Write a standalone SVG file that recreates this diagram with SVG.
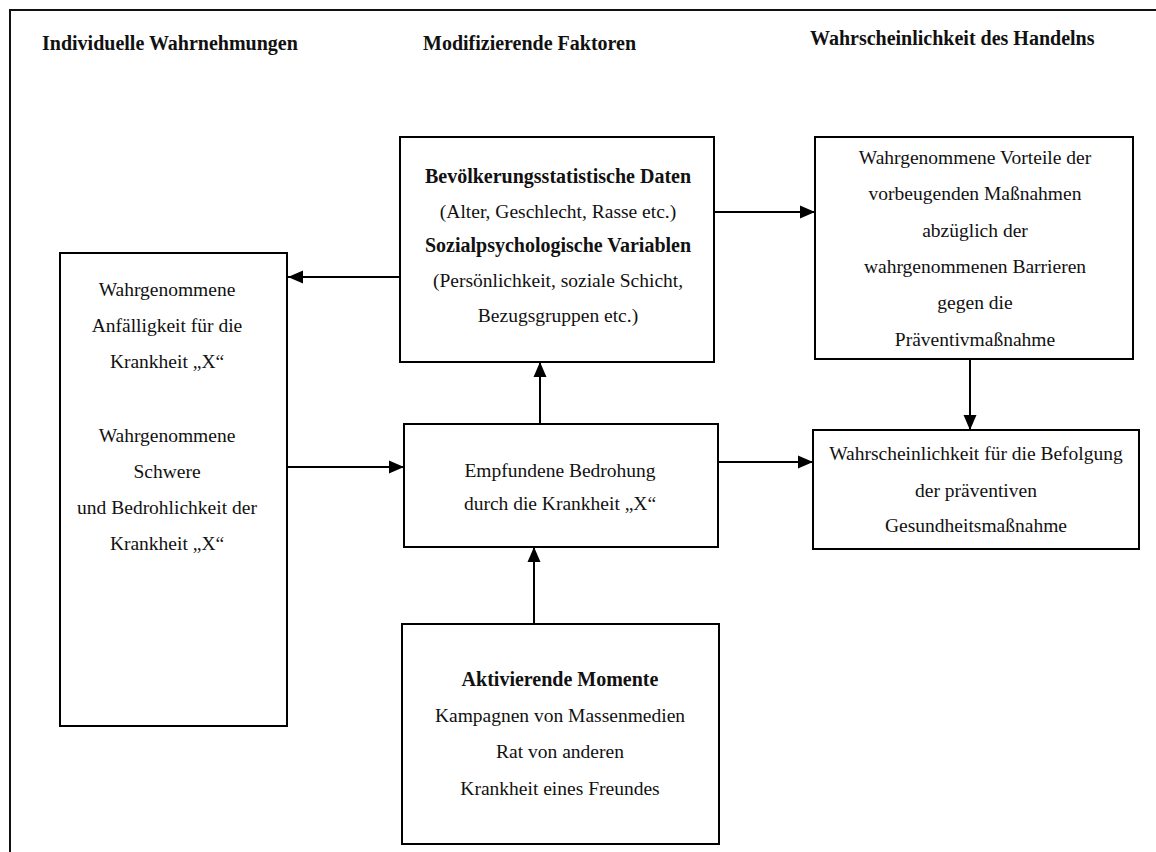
<svg xmlns="http://www.w3.org/2000/svg" width="1156" height="852" viewBox="0 0 1156 852">
  <defs>
    <style>
      .box { fill: #ffffff; stroke: #000000; stroke-width: 2; }
      .frame { fill: none; stroke: #111111; stroke-width: 2; }
      .edge { fill: none; stroke: #000000; stroke-width: 2; marker-end: url(#arrow); }
      text { font-family: "Liberation Serif", "Times New Roman", serif; fill: #111111; }
      .t { font-size: 19.5px; text-anchor: middle; }
      .b { font-size: 20px; font-weight: bold; text-anchor: middle; }
      .h { font-size: 20px; font-weight: bold; }
    </style>
    <marker id="arrow" markerUnits="userSpaceOnUse" markerWidth="16" markerHeight="14" refX="15" refY="7" orient="auto">
      <path d="M0,0.5 L15,7 L0,13.5 Z" fill="#000000"/>
    </marker>
  </defs>

  <rect width="1156" height="852" fill="#ffffff"/>

  <!-- page frame: top and left rules -->
  <path class="frame" d="M10,852 L10,10 L1156,10"/>

  <!-- column headings -->
  <g id="headings">
    <text class="h" x="42" y="50">Individuelle Wahrnehmungen</text>
    <text class="h" x="423" y="50">Modifizierende Faktoren</text>
    <text class="h" x="810" y="45">Wahrscheinlichkeit des Handelns</text>
  </g>

  <!-- connectors -->
  <g id="connectors">
    <line class="edge" x1="400" y1="277" x2="288" y2="277"/>
    <line class="edge" x1="287" y1="467" x2="404" y2="467"/>
    <line class="edge" x1="714" y1="212" x2="815" y2="212"/>
    <line class="edge" x1="540" y1="424" x2="540" y2="362"/>
    <line class="edge" x1="970" y1="359" x2="970" y2="430"/>
    <line class="edge" x1="718" y1="462" x2="813" y2="462"/>
    <line class="edge" x1="534" y1="624" x2="534" y2="547"/>
  </g>

  <!-- left: perceived susceptibility and severity -->
  <g id="wahrnehmung">
    <rect class="box" x="60" y="253" width="227" height="473"/>
    <text class="t" x="167" y="296">Wahrgenommene</text>
    <text class="t" x="167" y="332">Anfälligkeit für die</text>
    <text class="t" x="167" y="368">Krankheit „X“</text>
    <text class="t" x="167" y="442">Wahrgenommene</text>
    <text class="t" x="167" y="478">Schwere</text>
    <text class="t" x="167" y="514">und Bedrohlichkeit der</text>
    <text class="t" x="167" y="550">Krankheit „X“</text>
  </g>

  <!-- middle top: modifying factors -->
  <g id="faktoren">
    <rect class="box" x="400" y="137" width="314" height="225"/>
    <text class="b" x="558" y="183">Bevölkerungsstatistische Daten</text>
    <text class="t" x="558" y="218">(Alter, Geschlecht, Rasse etc.)</text>
    <text class="b" x="558" y="252">Sozialpsychologische Variablen</text>
    <text class="t" x="558" y="287">(Persönlichkeit, soziale Schicht,</text>
    <text class="t" x="558" y="322">Bezugsgruppen etc.)</text>
  </g>

  <!-- middle: perceived threat -->
  <g id="bedrohung">
    <rect class="box" x="404" y="424" width="314" height="123"/>
    <text class="t" x="560" y="477">Empfundene Bedrohung</text>
    <text class="t" x="560" y="510">durch die Krankheit „X“</text>
  </g>

  <!-- bottom: cues to action -->
  <g id="momente">
    <rect class="box" x="402" y="624" width="317" height="220"/>
    <text class="b" x="560" y="686">Aktivierende Momente</text>
    <text class="t" x="560" y="722">Kampagnen von Massenmedien</text>
    <text class="t" x="560" y="758">Rat von anderen</text>
    <text class="t" x="560" y="795">Krankheit eines Freundes</text>
  </g>

  <!-- right top: benefits minus barriers -->
  <g id="vorteile">
    <rect class="box" x="815" y="137" width="318" height="222"/>
    <text class="t" x="975" y="164">Wahrgenommene Vorteile der</text>
    <text class="t" x="975" y="200">vorbeugenden Maßnahmen</text>
    <text class="t" x="975" y="237">abzüglich der</text>
    <text class="t" x="975" y="273">wahrgenommenen Barrieren</text>
    <text class="t" x="975" y="309">gegen die</text>
    <text class="t" x="975" y="346">Präventivmaßnahme</text>
  </g>

  <!-- right bottom: likelihood of action -->
  <g id="befolgung">
    <rect class="box" x="813" y="430" width="326" height="119"/>
    <text class="t" x="976" y="460">Wahrscheinlichkeit für die Befolgung</text>
    <text class="t" x="976" y="497">der präventiven</text>
    <text class="t" x="976" y="532">Gesundheitsmaßnahme</text>
  </g>
</svg>
